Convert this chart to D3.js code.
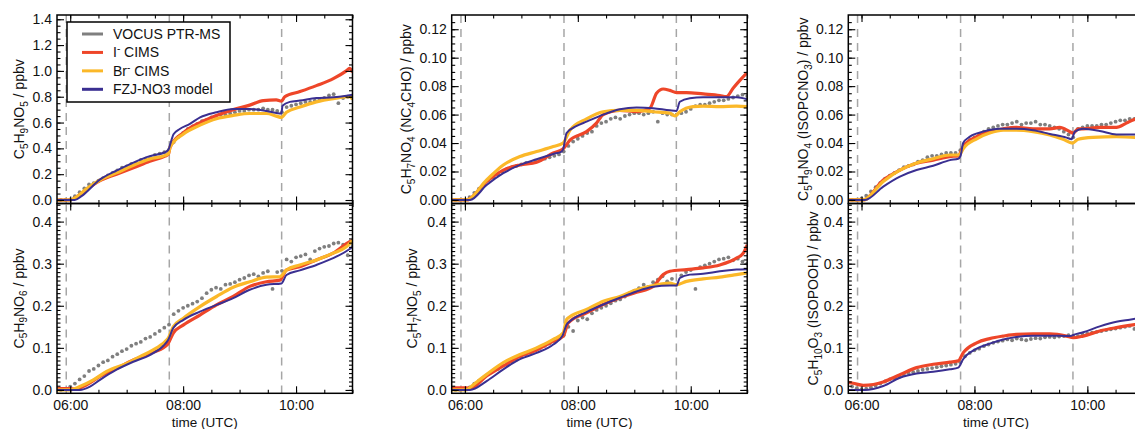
<!DOCTYPE html>
<html><head><meta charset="utf-8">
<script src="https://cdn.jsdelivr.net/npm/d3@7"></script>
<style>body{margin:0;background:#fff}text{font-family:"Liberation Sans",Arial,sans-serif;fill:#111}</style>
</head><body><svg id="c" width="1135" height="429"></svg>
<script>
// ---------- DATA (time in decimal hours UTC) ----------
const timeDomain = [5.766, 11.0];
const xTickValues = [6, 8, 10];
const xTickLabels = ["06:00", "08:00", "10:00"];
const dashedTimes = [5.93, 7.755, 9.745];
const seriesNames = ["VOCUS PTR-MS", "I- CIMS", "Br- CIMS", "FZJ-NO3 model"];

// VOCUS PTR-MS: 5-minute values starting 05:50
const vocusStart = 5 + 50 / 60;
const vocusStepMin = 5;

// Panel 1: C5H9NO5
const p1Vocus = [0.0, 0.0,
  0.005, 0.03, 0.06, 0.09, 0.12, 0.13, 0.15, 0.17, 0.19, 0.21, 0.23, 0.25,
  0.26, 0.28, 0.29, 0.31, 0.32, 0.33, 0.35, 0.36, 0.37, 0.39, 0.45, 0.49,
  0.52, 0.55, 0.57, 0.59, 0.61, 0.62, 0.64, 0.65, 0.66, 0.66, 0.67, 0.68,
  0.69, 0.69, 0.70, 0.70, 0.70, 0.71, 0.70, 0.70, 0.69, 0.68, 0.72, 0.73,
  0.74, 0.75, 0.76, 0.76, 0.77, 0.78, 0.79, 0.81, 0.82, 0.75, 0.79, 0.80,
  0.79];
const p1Icims = [[5.766,0],[6.0,0.0],[6.1,0.02],[6.3,0.085],[6.53,0.15],[6.82,0.20],[7.12,0.25],[7.41,0.30],[7.68,0.34],[7.74,0.355],[7.77,0.41],[8.0,0.52],[8.3,0.60],[8.59,0.655],[8.89,0.70],[9.18,0.735],[9.42,0.77],[9.65,0.775],[9.74,0.765],[9.80,0.80],[10.07,0.84],[10.36,0.886],[10.66,0.94],[10.89,1.0],[10.95,1.02],[11.0,0.99]];
const p1Brcims = [[5.766,0],[6.0,0.0],[6.1,0.02],[6.3,0.09],[6.53,0.155],[6.82,0.21],[7.12,0.27],[7.41,0.318],[7.68,0.346],[7.74,0.36],[7.77,0.41],[8.0,0.51],[8.3,0.58],[8.59,0.63],[8.89,0.655],[9.18,0.67],[9.48,0.67],[9.65,0.65],[9.74,0.64],[9.83,0.68],[10.07,0.72],[10.36,0.76],[10.66,0.785],[10.95,0.80],[11.0,0.78]];
const p1Model = [[5.766,0],[6.08,0.0],[6.2,0.03],[6.53,0.16],[6.82,0.228],[7.12,0.29],[7.41,0.34],[7.68,0.37],[7.74,0.39],[7.77,0.43],[7.83,0.51],[7.94,0.55],[8.12,0.59],[8.3,0.64],[8.59,0.68],[8.89,0.705],[9.18,0.705],[9.48,0.69],[9.71,0.67],[9.74,0.67],[9.76,0.73],[9.89,0.76],[10.07,0.77],[10.36,0.79],[10.66,0.795],[11.0,0.815]];

// Panel 2: C5H7NO4 (NC4CHO)
const p2Vocus = [0.0, 0.0,
  0.0, 0.002, 0.005, 0.008, 0.011, 0.014, 0.016, 0.018, 0.020, 0.022, 0.023, 0.024,
  0.025, 0.026, 0.026, 0.027, 0.028, 0.029, 0.030, 0.031, 0.032, 0.034, 0.038, 0.041,
  0.043, 0.045, 0.047, 0.048, 0.052, 0.054, 0.055, 0.057, 0.058, 0.057, 0.059, 0.060,
  0.061, 0.061, 0.060, 0.061, 0.062, 0.055, 0.061, 0.060, 0.060, 0.060, 0.061, 0.062,
  0.064, 0.066, 0.067, 0.067, 0.068, 0.069, 0.070, 0.070, 0.071, 0.072, 0.073, 0.074,
  0.073];
const p2Icims = [[5.766,0],[6.03,0.0],[6.385,0.013],[6.68,0.021],[6.975,0.0246],[7.27,0.0265],[7.565,0.033],[7.742,0.036],[7.86,0.042],[8.155,0.048],[8.33,0.054],[8.45,0.060],[8.745,0.063],[9.04,0.062],[9.276,0.0645],[9.394,0.075],[9.512,0.078],[9.63,0.077],[9.748,0.0755],[9.925,0.0755],[10.22,0.0745],[10.515,0.0734],[10.633,0.0727],[10.75,0.0785],[10.87,0.084],[11.0,0.0895]];
const p2Brcims = [[5.766,0],[6.03,0.0],[6.385,0.014],[6.68,0.0246],[6.975,0.0305],[7.27,0.034],[7.565,0.0375],[7.74,0.040],[7.86,0.049],[8.155,0.057],[8.45,0.062],[8.745,0.063],[9.04,0.063],[9.336,0.062],[9.63,0.061],[9.72,0.059],[9.807,0.062],[10.04,0.0656],[10.22,0.066],[10.515,0.0656],[10.81,0.066],[11.0,0.0656]];
const p2Model = [[5.766,0],[6.09,0.0],[6.385,0.0105],[6.68,0.0188],[6.975,0.0246],[7.27,0.0286],[7.565,0.0323],[7.713,0.034],[7.742,0.036],[7.80,0.047],[7.98,0.052],[8.155,0.055],[8.45,0.060],[8.745,0.0637],[9.04,0.065],[9.336,0.0645],[9.63,0.063],[9.748,0.0626],[9.807,0.069],[9.984,0.0715],[10.22,0.0722],[10.515,0.0722],[10.81,0.0722],[11.0,0.0708]];

// Panel 3: C5H9NO4 (ISOPCNO3)
const p3Vocus = [0.0, 0.0,
  0.001, 0.003, 0.006, 0.009, 0.012, 0.015, 0.017, 0.019, 0.021, 0.023, 0.024, 0.025,
  0.027, 0.028, 0.030, 0.031, 0.031, 0.032, 0.033, 0.033, 0.033, 0.035, 0.039, 0.042,
  0.044, 0.046, 0.048, 0.050, 0.051, 0.052, 0.053, 0.053, 0.054, 0.055, 0.053, 0.054,
  0.054, 0.055, 0.053, 0.053, 0.052, 0.051, 0.050, 0.048, 0.046, 0.044, 0.050, 0.051,
  0.052, 0.052, 0.052, 0.053, 0.053, 0.054, 0.055, 0.056, 0.056, 0.057, 0.057, 0.057,
  0.058];
const p3Icims = [[5.766,0.0],[6.03,0.0],[6.385,0.014],[6.68,0.021],[6.975,0.0258],[7.27,0.028],[7.565,0.0305],[7.713,0.031],[7.80,0.0375],[8.04,0.0445],[8.27,0.048],[8.51,0.050],[8.74,0.051],[9.04,0.050],[9.335,0.050],[9.51,0.051],[9.69,0.048],[9.75,0.047],[9.836,0.050],[9.925,0.050],[10.22,0.051],[10.515,0.051],[10.69,0.054],[10.84,0.0567],[11.0,0.058]];
const p3Brcims = [[5.766,0],[6.03,0.0],[6.385,0.013],[6.68,0.021],[6.975,0.026],[7.27,0.029],[7.565,0.0316],[7.73,0.0316],[7.80,0.036],[8.04,0.043],[8.27,0.047],[8.51,0.049],[8.74,0.049],[9.04,0.048],[9.335,0.0457],[9.57,0.0427],[9.736,0.040],[9.836,0.0427],[10.1,0.044],[10.515,0.0445],[10.84,0.044],[11.0,0.044]];
const p3Model = [[5.766,0],[6.06,0.0],[6.385,0.0094],[6.68,0.0164],[6.975,0.021],[7.27,0.024],[7.565,0.028],[7.713,0.029],[7.754,0.031],[7.80,0.040],[7.92,0.0445],[8.155,0.048],[8.45,0.050],[8.74,0.050],[9.04,0.049],[9.335,0.0464],[9.63,0.0438],[9.72,0.0427],[9.78,0.048],[9.925,0.050],[10.22,0.0485],[10.515,0.046],[10.84,0.046],[11.0,0.046]];

// Panel 4: C5H9NO6
const p4Vocus = [0.0, 0.002,
  0.008, 0.015, 0.025, 0.033, 0.045, 0.050, 0.058, 0.066, 0.070, 0.079, 0.085, 0.092,
  0.097, 0.105, 0.110, 0.114, 0.122, 0.126, 0.133, 0.140, 0.148, 0.155, 0.180, 0.188,
  0.195, 0.200, 0.205, 0.210, 0.218, 0.230, 0.238, 0.243, 0.240, 0.250, 0.252, 0.256,
  0.262, 0.266, 0.272, 0.275, 0.270, 0.278, 0.282, 0.240, 0.280, 0.283, 0.310, 0.305,
  0.315, 0.318, 0.322, 0.310, 0.330, 0.336, 0.340, 0.342, 0.348, 0.350, 0.345, 0.320,
  0.345];
const p4Icims = [[5.766,0.003],[6.0,0.003],[6.085,0.002],[6.29,0.012],[6.527,0.032],[6.82,0.051],[7.117,0.071],[7.41,0.087],[7.68,0.103],[7.737,0.111],[7.825,0.135],[8.0,0.154],[8.297,0.178],[8.592,0.202],[8.887,0.222],[9.18,0.246],[9.477,0.257],[9.713,0.261],[9.83,0.285],[10.067,0.293],[10.36,0.309],[10.657,0.325],[10.95,0.352],[11.0,0.355]];
const p4Brcims = [[5.766,0.0],[6.0,0.0],[6.17,0.008],[6.41,0.024],[6.645,0.044],[7.0,0.063],[7.235,0.079],[7.47,0.095],[7.68,0.115],[7.737,0.123],[7.825,0.150],[8.0,0.170],[8.297,0.198],[8.592,0.222],[8.887,0.244],[9.18,0.257],[9.477,0.268],[9.713,0.269],[9.83,0.285],[10.067,0.297],[10.36,0.309],[10.657,0.325],[10.89,0.340],[11.0,0.355]];
const p4Model = [[5.766,0.0],[6.17,0.0],[6.35,0.008],[6.527,0.024],[6.82,0.048],[7.117,0.067],[7.41,0.083],[7.65,0.105],[7.737,0.119],[7.825,0.147],[8.0,0.166],[8.297,0.186],[8.592,0.202],[8.887,0.218],[9.18,0.238],[9.477,0.25],[9.742,0.253],[9.83,0.273],[10.067,0.284],[10.36,0.297],[10.657,0.313],[10.95,0.335],[11.0,0.34]];

// Panel 5: C5H7NO5
const p5Vocus = [0.0, 0.0,
  0.002, 0.006, 0.015, 0.022, 0.030, 0.038, 0.046, 0.050, 0.058, 0.062, 0.068, 0.072,
  0.078, 0.085, 0.088, 0.094, 0.100, 0.105, 0.110, 0.116, 0.122, 0.130, 0.150, 0.140,
  0.165, 0.172, 0.168, 0.182, 0.190, 0.195, 0.200, 0.206, 0.212, 0.215, 0.222, 0.230,
  0.236, 0.242, 0.250, 0.245, 0.256, 0.262, 0.270, 0.258, 0.264, 0.250, 0.272, 0.280,
  0.285, 0.240, 0.292, 0.296, 0.300, 0.305, 0.310, 0.312, 0.315, 0.308, 0.312, 0.305,
  0.300];
const p5Icims = [[5.766,0.005],[6.03,0.005],[6.09,0.004],[6.385,0.033],[6.68,0.057],[6.975,0.080],[7.27,0.095],[7.565,0.116],[7.742,0.128],[7.83,0.159],[8.155,0.183],[8.45,0.203],[8.745,0.219],[9.04,0.232],[9.336,0.246],[9.512,0.274],[9.63,0.282],[9.925,0.286],[10.22,0.29],[10.515,0.297],[10.81,0.313],[10.93,0.325],[11.0,0.345]];
const p5Brcims = [[5.766,0.0],[6.03,0.0],[6.09,0.006],[6.385,0.037],[6.68,0.065],[6.975,0.084],[7.27,0.1],[7.565,0.12],[7.742,0.136],[7.80,0.167],[7.86,0.174],[8.155,0.191],[8.45,0.211],[8.745,0.222],[9.04,0.238],[9.336,0.248],[9.63,0.254],[9.748,0.25],[9.925,0.258],[10.22,0.264],[10.515,0.268],[10.81,0.274],[11.0,0.278]];
const p5Model = [[5.766,0.0],[6.09,0.0],[6.385,0.021],[6.68,0.049],[6.975,0.073],[7.27,0.088],[7.565,0.108],[7.73,0.129],[7.80,0.155],[7.86,0.163],[8.155,0.185],[8.45,0.203],[8.745,0.219],[9.04,0.234],[9.336,0.245],[9.63,0.248],[9.748,0.248],[9.807,0.266],[9.984,0.274],[10.22,0.276],[10.515,0.282],[10.81,0.286],[11.0,0.287]];

// Panel 6: C5H10O3 (ISOPOOH)
const p6Vocus = [0.008, 0.004,
  0.002, 0.003, 0.006, 0.010, 0.015, 0.020, 0.025, 0.028, 0.031, 0.036, 0.040, 0.042,
  0.045, 0.048, 0.050, 0.052, 0.054, 0.056, 0.058, 0.060, 0.062, 0.066, 0.080, 0.088,
  0.094, 0.098, 0.104, 0.108, 0.112, 0.115, 0.117, 0.120, 0.118, 0.122, 0.120, 0.118,
  0.121, 0.123, 0.122, 0.125, 0.126, 0.125, 0.127, 0.128, 0.130, 0.129, 0.128, 0.132,
  0.134, 0.136, 0.138, 0.140, 0.142, 0.144, 0.146, 0.148, 0.150, 0.152, 0.145, 0.154,
  0.152];
const p6Icims = [[5.766,0.018],[5.85,0.016],[6.03,0.011],[6.21,0.013],[6.385,0.019],[6.68,0.036],[6.975,0.053],[7.27,0.061],[7.565,0.066],[7.713,0.069],[7.80,0.088],[8.04,0.112],[8.27,0.122],[8.51,0.128],[8.74,0.132],[9.04,0.133],[9.335,0.133],[9.63,0.128],[9.75,0.124],[9.925,0.128],[10.22,0.14],[10.515,0.148],[10.84,0.155],[11.0,0.158]];
const p6Brcims = [];
const p6Model = [[5.766,0.0],[6.06,0.0],[6.385,0.0095],[6.68,0.029],[6.975,0.039],[7.27,0.043],[7.565,0.049],[7.713,0.053],[7.80,0.073],[8.04,0.098],[8.27,0.110],[8.51,0.12],[8.74,0.126],[9.04,0.129],[9.335,0.129],[9.69,0.128],[9.78,0.132],[9.925,0.137],[10.22,0.151],[10.515,0.162],[10.75,0.167],[11.0,0.172]];

// y axis ticks per panel
const yTicksTop1 = [0.0, 0.2, 0.4, 0.6, 0.8, 1.0, 1.2, 1.4];
const yTicksTopSmall = [0.00, 0.02, 0.04, 0.06, 0.08, 0.10, 0.12];
const yTicksBottom = [0.0, 0.1, 0.2, 0.3, 0.4];

// ---------- LAYOUT ----------
const colX = [57, 451.7, 848.3];
const panelW = 295.5;
const rowTop = [15, 203.5];
const rowBot = [203.5, 393.3];
const colors = {vocus: "#7f7f7f", icims: "#ee4629", brcims: "#fbb829", model: "#3a2f91"};

const panels = [
  {col:0,row:0,dom:[-0.027,1.433],ticks:yTicksTop1,fmt:d3.format(".1f"),minor:0.05,
   label:[["C"],["5",1],["H"],["9",1],["NO"],["5",1],[" / ppbv"]],labelX:24,
   v:p1Vocus,i:p1Icims,b:p1Brcims,m:p1Model},
  {col:1,row:0,dom:[-0.0025,0.130],ticks:yTicksTopSmall,fmt:d3.format(".2f"),minor:0.005,
   label:[["C"],["5",1],["H"],["7",1],["NO"],["4",1],[" (NC"],["4",1],["CHO) / ppbv"]],labelX:411,
   v:p2Vocus,i:p2Icims,b:p2Brcims,m:p2Model},
  {col:2,row:0,dom:[-0.0025,0.130],ticks:yTicksTopSmall,fmt:d3.format(".2f"),minor:0.005,
   label:[["C"],["5",1],["H"],["9",1],["NO"],["4",1],[" (ISOPCNO"],["3",1],[") / ppbv"]],labelX:808,
   v:p3Vocus,i:p3Icims,b:p3Brcims,m:p3Model},
  {col:0,row:1,dom:[-0.008,0.443],ticks:yTicksBottom,fmt:d3.format(".1f"),minor:0.01,
   label:[["C"],["5",1],["H"],["9",1],["NO"],["6",1],[" / ppbv"]],labelX:23.5,
   v:p4Vocus,i:p4Icims,b:p4Brcims,m:p4Model},
  {col:1,row:1,dom:[-0.008,0.443],ticks:yTicksBottom,fmt:d3.format(".1f"),minor:0.01,
   label:[["C"],["5",1],["H"],["7",1],["NO"],["5",1],[" / ppbv"]],labelX:417,
   v:p5Vocus,i:p5Icims,b:p5Brcims,m:p5Model},
  {col:2,row:1,dom:[-0.008,0.443],ticks:yTicksBottom,fmt:d3.format(".1f"),minor:0.01,
   label:[["C"],["5",1],["H"],["10",1],["O"],["3",1],[" (ISOPOOH) / ppbv"]],labelX:818,
   v:p6Vocus,i:p6Icims,b:p6Brcims,m:p6Model}
];

const svg = d3.select("#c");
svg.append("rect").attr("width",1135).attr("height",429).attr("fill","#fff");
const defs = svg.append("defs");

const xMinorTicks = d3.range(6, 11.01, 0.5);

panels.forEach((p, k) => {
  const x0 = colX[p.col], x1 = x0 + panelW;
  const y0 = rowTop[p.row], y1 = rowBot[p.row];
  const x = d3.scaleLinear().domain(timeDomain).range([x0, x1]);
  const y = d3.scaleLinear().domain(p.dom).range([y1, y0]);
  const clipId = "clip" + k;
  defs.append("clipPath").attr("id", clipId).append("rect")
    .attr("x", x0).attr("y", y0).attr("width", panelW).attr("height", y1 - y0);
  const g = svg.append("g").attr("clip-path", `url(#${clipId})`);

  // dashed vertical lines
  g.selectAll(".dash").data(dashedTimes).join("line")
    .attr("x1", d => x(d)).attr("x2", d => x(d)).attr("y1", y0).attr("y2", y1)
    .attr("stroke", "#a6a6a6").attr("stroke-width", 1.5).attr("stroke-dasharray", "8,6");

  // VOCUS points
  const vocusPts = p.v.map((val, i) => [vocusStart + i * vocusStepMin / 60, val]);
  g.selectAll(".voc").data(vocusPts).join("circle")
    .attr("cx", d => x(d[0])).attr("cy", d => y(d[1])).attr("r", 1.9)
    .attr("fill", colors.vocus);

  const line = d3.line().x(d => x(d[0])).y(d => y(d[1])).curve(d3.curveMonotoneX);
  if (p.i.length) g.append("path").datum(p.i).attr("d", line).attr("fill","none")
    .attr("stroke", colors.icims).attr("stroke-width", 3.2).attr("stroke-linejoin","round");
  if (p.b.length) g.append("path").datum(p.b).attr("d", line).attr("fill","none")
    .attr("stroke", colors.brcims).attr("stroke-width", 3.2).attr("stroke-linejoin","round");
  if (p.m.length) g.append("path").datum(p.m).attr("d", line).attr("fill","none")
    .attr("stroke", colors.model).attr("stroke-width", 2).attr("stroke-linejoin","round");

  // axes (ticks inward on all sides)
  const ax = svg.append("g").attr("class","axes");
  const yMinor = d3.range(Math.ceil(p.dom[0]/p.minor)*p.minor, p.dom[1], p.minor)
    .filter(v => v >= p.dom[0]);
  function yAxes(axisFn, xpos, labels){
    const gm = ax.append("g").attr("transform",`translate(${xpos},0)`)
      .call(axisFn(y).tickValues(yMinor).tickSize(-3.5).tickFormat(""));
    const gM = ax.append("g").attr("transform",`translate(${xpos},0)`)
      .call(axisFn(y).tickValues(p.ticks).tickSize(-7).tickPadding(5)
        .tickFormat(labels ? p.fmt : ""));
    [gm, gM].forEach(s => { s.select(".domain").remove();
      s.selectAll("line").attr("stroke","#000").attr("stroke-width",1.1); });
    gM.selectAll("text").style("font-size","14px").attr("fill","#111");
  }
  yAxes(d3.axisLeft, x0, true);
  yAxes(d3.axisRight, x1, false);
  function xAxes(axisFn, ypos, labels){
    const gm = ax.append("g").attr("transform",`translate(0,${ypos})`)
      .call(axisFn(x).tickValues(xMinorTicks).tickSize(-3.5).tickFormat(""));
    const gM = ax.append("g").attr("transform",`translate(0,${ypos})`)
      .call(axisFn(x).tickValues(xTickValues).tickSize(-7).tickPadding(6.5)
        .tickFormat(labels ? ((d,i) => xTickLabels[i]) : ""));
    [gm, gM].forEach(s => { s.select(".domain").remove();
      s.selectAll("line").attr("stroke","#000").attr("stroke-width",1.1); });
    gM.selectAll("text").style("font-size","14px").attr("fill","#111");
  }
  xAxes(d3.axisBottom, y1, p.row === 1);
  xAxes(d3.axisTop, y0, false);

  ax.append("rect").attr("x", x0).attr("y", y0).attr("width", panelW).attr("height", y1 - y0)
    .attr("fill","none").attr("stroke","#000").attr("stroke-width",1.5);

  // y label with subscripts
  const cy = (y0 + y1) / 2;
  const t = svg.append("text").attr("transform", `translate(${p.labelX},${cy}) rotate(-90)`)
    .attr("text-anchor","middle").style("font-size","14px");
  let prevSub = false;
  p.label.forEach(part => {
    const sub = !!part[1];
    const ts = t.append("tspan").text(part[0]);
    if (sub) ts.style("font-size","10px");
    const dy = (sub && !prevSub) ? 3.5 : (!sub && prevSub) ? -3.5 : 0;
    if (dy) ts.attr("dy", dy);
    prevSub = sub;
  });

  if (p.row === 1) {
    svg.append("text").attr("x", (x0 + x1) / 2).attr("y", 426.5)
      .attr("text-anchor","middle").style("font-size","13.5px").text("time (UTC)");
  }
});

// ---------- LEGEND ----------
const leg = svg.append("g");
leg.append("rect").attr("x",67).attr("y",22).attr("width",163).attr("height",80)
  .attr("fill","#fff").attr("stroke","#000").attr("stroke-width",1.5);
const legColors = [colors.vocus, colors.icims, colors.brcims, colors.model];
const legY = d3.scalePoint().domain(seriesNames).range([34, 89.3]);
seriesNames.forEach((name, i) => {
  const yy = legY(name);
  leg.append("line").attr("x1",82).attr("x2",103).attr("y1",yy).attr("y2",yy)
    .attr("stroke",legColors[i]).attr("stroke-width",3);
  const tx = leg.append("text").attr("x",113).attr("y",yy+5).style("font-size","14px");
  const m = name.match(/^(I|Br)- (.*)$/);
  if (m) {
    tx.append("tspan").text(m[1]);
    tx.append("tspan").text("-").attr("dy",-5).style("font-size","10px");
    tx.append("tspan").text(" " + m[2]).attr("dy",5);
  } else {
    tx.text(name);
  }
});
</script></body></html>
